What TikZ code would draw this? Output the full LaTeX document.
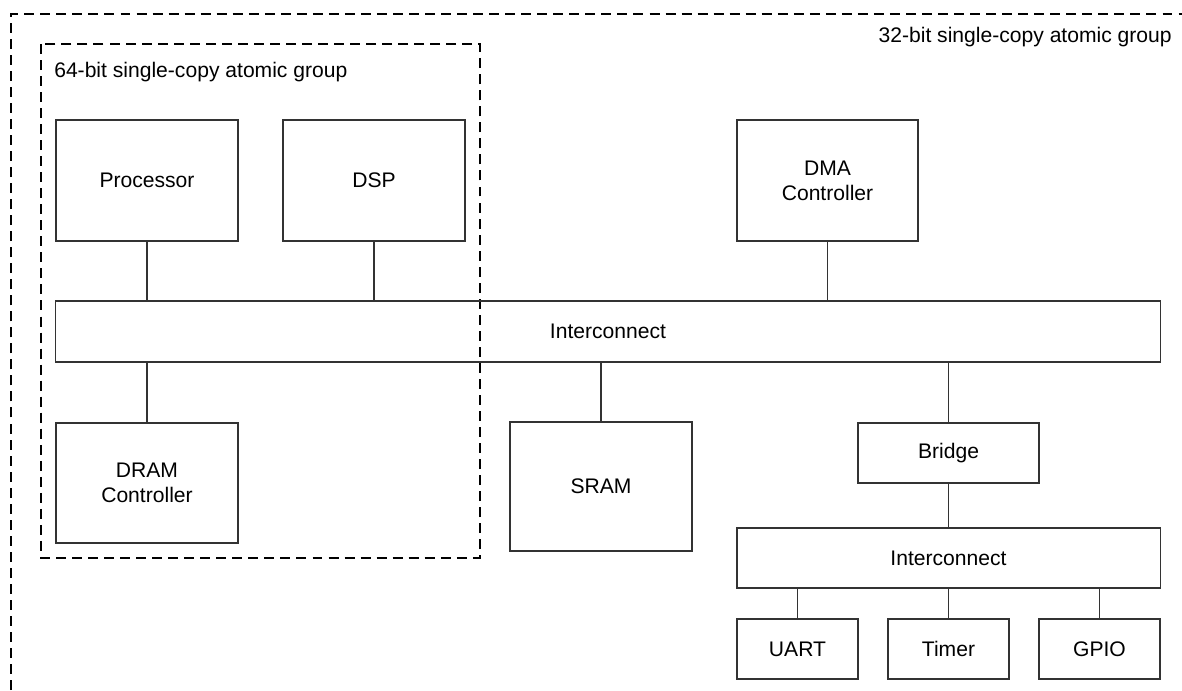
\documentclass[tikz,border=0pt]{standalone}
\usepackage{fontspec}
\setmainfont{Liberation Sans}
\usetikzlibrary{calc}
\tikzset{
	unit/.style={draw=black!80, line width=0.8pt, align=center, inner sep=0pt, font=\fontsize{15}{17.8}\selectfont},
	grp/.style={line width=1.8pt, dash pattern=on 7.1pt off 4.3pt},
	lbl/.style={inner sep=0pt, font=\fontsize{15}{17.8}\selectfont},
	link/.style={draw=black!80, line width=0.8pt}
}

\begin{document}
\begin{tikzpicture}[x=0.025cm, y=-0.025cm]
		%%%%% START %%%%%
		\useasboundingbox (0, 0) rectangle (1182, 690);
		
		\draw[grp] (11, 690) -- (11, 14) -- (1182, 14);
		\node[lbl, anchor=east] (lbl32) at (1172, 37) {32-bit single-copy atomic group};
		
		\draw[grp] (41, 44) rectangle (480, 558);
		\node[lbl, anchor=west] (lbl64) at (54, 72) {64-bit single-copy atomic group};
		
		\node[unit, minimum width=4.55cm, minimum height=3.025cm] (proc) at (147, 180.5) {Processor};
		\node[unit, minimum width=4.55cm, minimum height=3.025cm] (dsp) at (374, 180.5) {DSP};
		\node[unit, minimum width=4.525cm, minimum height=3.025cm] (dma) at (827.5, 180.5) {DMA\\Controller};
		
		\node[unit, minimum width=27.6cm, minimum height=1.525cm] (ic) at (608, 331.5) {Interconnect};
		
		\node[unit, minimum width=4.55cm, minimum height=3cm] (dram) at (147, 483) {DRAM\\Controller};
		\node[unit, minimum width=4.55cm, minimum height=3.225cm] (sram) at (601, 486.5) {SRAM};
		\node[unit, minimum width=4.525cm, minimum height=1.5cm] (brg) at (948.5, 453) {Bridge};
		
		\node[unit, minimum width=10.575cm, minimum height=1.5cm] (ic2) at (948.5, 558) {Interconnect};
		\node[unit, minimum width=3.025cm, minimum height=1.5cm] (uart) at (797.5, 649) {UART};
		\node[unit, minimum width=3.025cm, minimum height=1.5cm] (tmr) at (948.5, 649) {Timer};
		\node[unit, minimum width=3.025cm, minimum height=1.5cm] (gpio) at (1099.5, 649) {GPIO};
		
		\draw[link] (proc.south) -- (proc.south |- ic.north);
		\draw[link] (dsp.south) -- (dsp.south |- ic.north);
		\draw[link] (dma.south) -- (dma.south |- ic.north);
		\draw[link] (dram.north) -- (dram.north |- ic.south);
		\draw[link] (sram.north) -- (sram.north |- ic.south);
		\draw[link] (brg.north) -- (brg.north |- ic.south);
		\draw[link] (brg.south) -- (ic2.north);
		\draw[link] (uart.north) -- (uart.north |- ic2.south);
		\draw[link] (tmr.north) -- (tmr.north |- ic2.south);
		\draw[link] (gpio.north) -- (gpio.north |- ic2.south);
		
		%%%%% END %%%%%
	\end{tikzpicture}
\end{document}
